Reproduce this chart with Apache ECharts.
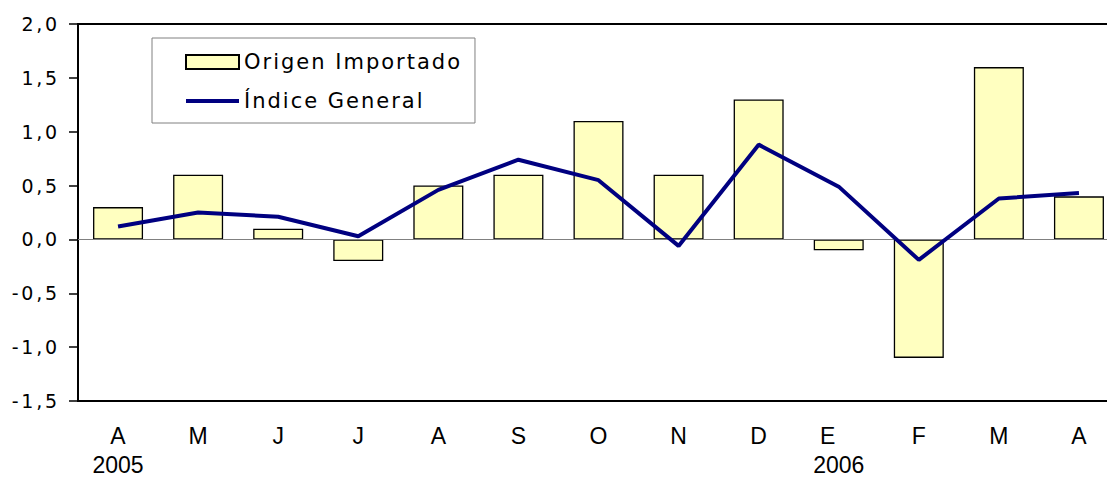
<!DOCTYPE html>
<html>
<head>
<meta charset="utf-8">
<script src="https://cdn.jsdelivr.net/npm/echarts@6/dist/echarts.min.js"></script>
<style>
  html, body { margin: 0; padding: 0; background: #fff; overflow: hidden; }
  #main { width: 1107px; height: 477px; overflow: hidden; }
  /* spaced-out lettering of the y labels and legend */
  #main text[style*="DejaVu"] { letter-spacing: 2.8px; }
  #main text[style*="Verdana"] { letter-spacing: 2px; }
</style>
</head>
<body>
<div id="main"></div>
<script>
// meses abr-2005 .. abr-2006
var months = ['A', 'M', 'J', 'J', 'A', 'S', 'O', 'N', 'D', 'E', 'F', 'M', 'A'];
var years = ['2005', '', '', '', '', '', '', '', '', '2006', '', '', ''];
// variación mensual (%)
var origenImportado = [0.3, 0.6, 0.1, -0.2, 0.5, 0.6, 1.1, 0.6, 1.3, -0.1, -1.1, 1.6, 0.4];
var indiceGeneral = [0.12, 0.25, 0.21, 0.03, 0.46, 0.74, 0.55, -0.06, 0.88, 0.49, -0.19, 0.38, 0.43];

var myChart = echarts.init(document.getElementById('main'), null, { renderer: 'svg' });

var labelFont = { fontFamily: 'Liberation Sans', fontSize: 23, color: '#000' };

var option = {
    backgroundColor: '#fff',
    animation: false,
    grid: {
        left: 78,
        top: 24,
        width: 1041,
        height: 377,
        outerBoundsMode: 'none',
        show: true,
        borderColor: '#000',
        borderWidth: 2
    },
    legend: {
        left: 152,
        top: 38,
        orient: 'vertical',
        padding: [12, 45, 10, 33],
        itemGap: 15,
        itemWidth: 53,
        itemHeight: 14,
        borderColor: '#808080',
        borderWidth: 1,
        backgroundColor: '#fff',
        textStyle: {
            fontFamily: 'Verdana, DejaVu Sans',
            fontSize: 21,
            lineHeight: 24,
            color: '#000'
        },
        data: [
            { name: 'Origen Importado', icon: 'rect' },
            { name: 'Índice General', icon: 'path://M0,0H53V4H0Z' }
        ]
    },
    xAxis: {
        type: 'category',
        data: months,
        axisLine: { onZero: false, lineStyle: { color: '#000', width: 2 } },
        axisTick: { show: false },
        axisLabel: {
            interval: 0,
            margin: 18,
            formatter: function (value, idx) {
                var first = (idx === 9 ? '{e|' : '{m|') + value + '}';
                return years[idx] ? first + '\n{y|' + years[idx] + '}' : first;
            },
            rich: {
                m: Object.assign({ lineHeight: 34 }, labelFont),
                e: Object.assign({ lineHeight: 34, padding: [0, 22, 0, 0] }, labelFont),
                y: Object.assign({ lineHeight: 24 }, labelFont)
            }
        }
    },
    yAxis: {
        type: 'value',
        min: -1.5,
        max: 2,
        interval: 0.5,
        axisLine: { show: true, lineStyle: { color: '#000', width: 2 } },
        axisTick: { show: true, length: 9, lineStyle: { color: '#000', width: 1.5 } },
        splitLine: { show: false },
        axisLabel: {
            margin: 18,
            color: '#000',
            fontFamily: 'DejaVu Sans',
            fontSize: 19,
            formatter: function (v) { return v.toFixed(1).replace('.', ','); }
        }
    },
    series: [{
        name: 'Origen Importado',
        type: 'bar',
        data: origenImportado,
        barWidth: 50,
        itemStyle: { color: '#ffffc0', borderColor: '#000', borderWidth: 1.3 },
        markLine: {
            silent: true,
            symbol: 'none',
            label: { show: false },
            lineStyle: { color: '#808080', type: 'solid', width: 1 },
            data: [{ yAxis: 0 }]
        }
    }, {
        name: 'Índice General',
        type: 'line',
        data: indiceGeneral,
        symbol: 'none',
        z: 5,
        lineStyle: { color: '#000080', width: 4 },
        itemStyle: { color: '#000080' }
    }]
};

myChart.setOption(option);
</script>
</body>
</html>
